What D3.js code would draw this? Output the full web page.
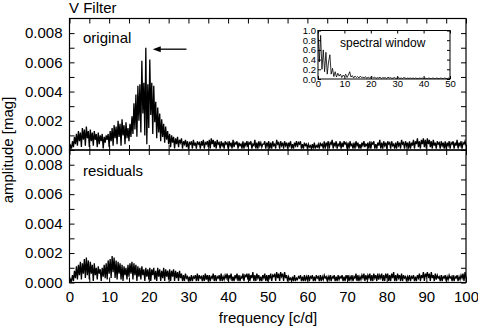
<!DOCTYPE html>
<html>
<head>
<meta charset="utf-8">
<script src="https://cdn.jsdelivr.net/npm/d3@7"></script>
<style>
  body { margin: 0; background: #fff; }
  svg { display: block; font-family: "Liberation Sans", Arial, sans-serif; }
  .tick text { fill: #000; }
</style>
</head>
<body>
<script>
'use strict';

// amplitude spectra, in mmag, sampled every 0.25 c/d from 0 to 100
const freqStep = 0.25;
const originalAmp = [
  0.0,0.3,0.1,0.6,0.2,0.9,0.4,1.1,0.3,1.3,0.6,1.2,0.2,1.5,0.7,1.4,0.3,1.6,0.8,1.3,
  0.2,1.4,0.6,1.2,0.3,1.3,0.7,1.1,0.2,1.2,0.4,1.0,0.6,1.1,0.1,0.9,0.5,1.0,0.7,1.1,
  0.2,1.3,0.6,1.5,0.3,1.7,0.8,1.6,0.4,2.0,0.9,1.8,0.3,2.1,1.0,1.7,0.4,1.9,0.8,1.5,
  0.6,1.8,0.9,2.3,1.1,3.2,1.4,3.8,0.9,4.4,2.0,4.5,1.2,6.1,2.5,4.6,1.0,7.0,0.4,4.5,
  1.5,6.2,2.4,4.6,1.1,4.4,1.9,3.3,0.8,2.9,1.2,2.5,0.6,2.1,0.9,1.8,0.5,1.6,0.7,1.3,
  0.4,1.1,0.2,1.0,0.5,0.9,0.1,0.8,0.4,0.9,0.2,0.7,0.5,0.8,0.1,0.6,0.4,0.7,0.2,0.6,
  0.1,0.5,0.4,0.6,0.1,0.7,0.3,0.5,0.1,0.6,0.4,0.5,0.1,0.6,0.3,0.7,0.1,0.5,0.4,0.6,
  0.2,0.7,0.1,0.8,0.4,0.7,0.2,0.6,0.1,0.7,0.4,0.5,0.1,0.6,0.3,0.5,0.1,0.6,0.4,0.5,
  0.1,0.6,0.3,0.5,0.1,0.7,0.2,0.5,0.4,0.6,0.1,0.5,0.3,0.4,0.1,0.6,0.1,0.5,0.3,0.6,
  0.2,0.5,0.4,0.6,0.1,0.4,0.3,0.7,0.1,0.5,0.1,0.6,0.3,0.5,0.2,0.4,0.4,0.6,0.1,0.5,
  0.3,0.6,0.1,0.5,0.1,0.6,0.3,0.4,0.1,0.7,0.4,0.5,0.1,0.6,0.3,0.5,0.1,0.6,0.3,0.5,
  0.1,0.5,0.3,0.6,0.1,0.4,0.1,0.5,0.3,0.6,0.2,0.5,0.4,0.6,0.1,0.4,0.1,0.5,0.3,0.4,
  0.1,0.4,0.2,0.3,0.1,0.4,0.1,0.5,0.1,0.3,0.2,0.4,0.1,0.5,0.3,0.4,0.1,0.6,0.1,0.5,
  0.3,0.6,0.1,0.5,0.4,0.7,0.1,0.5,0.3,0.6,0.1,0.4,0.3,0.6,0.1,0.5,0.2,0.6,0.4,0.5,
  0.1,0.5,0.1,0.6,0.3,0.4,0.1,0.5,0.1,0.6,0.3,0.5,0.1,0.4,0.1,0.5,0.3,0.6,0.2,0.4,
  0.3,0.5,0.1,0.6,0.1,0.5,0.4,0.6,0.1,0.4,0.1,0.5,0.3,0.7,0.1,0.5,0.1,0.6,0.3,0.5,
  0.1,0.6,0.4,0.5,0.1,0.6,0.3,0.4,0.1,0.5,0.1,0.6,0.3,0.5,0.1,0.7,0.4,0.5,0.1,0.6,
  0.3,0.5,0.1,0.6,0.1,0.5,0.3,0.7,0.1,0.6,0.4,0.8,0.2,0.6,0.1,0.7,0.4,0.8,0.2,0.7,
  0.1,0.8,0.4,0.7,0.2,0.6,0.1,0.7,0.3,0.5,0.1,0.6,0.4,0.5,0.1,0.6,0.3,0.5,0.1,0.6,
  0.1,0.5,0.3,0.6,0.1,0.5,0.4,0.6,0.1,0.5,0.3,0.7,0.1,0.5,0.3,0.6,0.1,0.5,0.4,0.6,
  0.3
];
const residualAmp = [
  0.0,0.2,0.1,0.5,0.1,0.8,0.3,1.1,0.2,1.2,0.5,1.4,0.2,1.3,0.6,1.6,0.3,1.7,0.5,1.5,
  0.2,1.4,0.6,1.2,0.1,1.3,0.5,1.0,0.2,1.1,0.6,0.9,0.1,1.0,0.4,1.2,0.3,1.3,0.2,1.5,
  0.6,1.6,0.3,1.8,0.7,1.7,0.3,1.5,0.2,1.4,0.6,1.3,0.2,1.2,0.1,1.1,0.5,1.0,0.2,1.2,
  0.4,1.3,0.6,1.4,0.2,1.3,0.5,1.2,0.1,1.1,0.4,1.0,0.2,1.1,0.5,0.9,0.1,1.0,0.4,0.9,
  0.2,1.0,0.1,0.9,0.5,1.0,0.2,0.8,0.1,1.0,0.4,0.9,0.1,0.8,0.3,1.0,0.1,0.9,0.4,0.8,
  0.2,0.9,0.1,0.8,0.4,0.9,0.1,0.8,0.3,0.7,0.1,0.8,0.3,0.6,0.1,0.5,0.1,0.6,0.3,0.4,
  0.1,0.4,0.1,0.5,0.1,0.4,0.3,0.5,0.1,0.6,0.1,0.5,0.3,0.4,0.1,0.5,0.1,0.6,0.2,0.5,
  0.1,0.5,0.1,0.4,0.3,0.6,0.1,0.5,0.1,0.4,0.3,0.5,0.1,0.6,0.1,0.4,0.2,0.5,0.3,0.6,
  0.1,0.5,0.3,0.6,0.1,0.4,0.1,0.5,0.3,0.6,0.1,0.5,0.1,0.4,0.3,0.6,0.1,0.5,0.4,0.6,
  0.2,0.6,0.1,0.5,0.3,0.7,0.1,0.5,0.1,0.6,0.3,0.5,0.1,0.4,0.1,0.5,0.3,0.6,0.1,0.5,
  0.1,0.5,0.3,0.6,0.1,0.5,0.4,0.6,0.1,0.7,0.3,0.6,0.1,0.7,0.4,0.6,0.1,0.7,0.3,0.5,
  0.1,0.4,0.2,0.3,0.1,0.4,0.1,0.5,0.1,0.3,0.2,0.4,0.3,0.5,0.1,0.4,0.1,0.5,0.1,0.4,
  0.2,0.5,0.1,0.4,0.3,0.5,0.1,0.4,0.1,0.5,0.3,0.4,0.1,0.5,0.1,0.4,0.2,0.5,0.3,0.4,
  0.1,0.4,0.2,0.5,0.1,0.4,0.3,0.5,0.1,0.4,0.1,0.5,0.2,0.4,0.3,0.5,0.1,0.4,0.1,0.5,
  0.3,0.5,0.1,0.4,0.2,0.5,0.1,0.4,0.3,0.6,0.1,0.5,0.1,0.4,0.2,0.5,0.3,0.6,0.1,0.5,
  0.2,0.5,0.3,0.6,0.1,0.5,0.1,0.6,0.3,0.5,0.1,0.6,0.2,0.5,0.3,0.6,0.1,0.5,0.1,0.6,
  0.3,0.6,0.1,0.5,0.1,0.6,0.3,0.7,0.1,0.5,0.1,0.6,0.3,0.5,0.1,0.6,0.1,0.5,0.3,0.4,
  0.1,0.4,0.2,0.5,0.1,0.4,0.3,0.5,0.1,0.4,0.1,0.5,0.3,0.6,0.1,0.5,0.3,0.7,0.1,0.6,
  0.4,0.7,0.3,0.6,0.1,0.7,0.3,0.5,0.1,0.6,0.2,0.5,0.3,0.4,0.1,0.5,0.1,0.4,0.3,0.5,
  0.1,0.4,0.2,0.5,0.3,0.4,0.1,0.5,0.1,0.4,0.3,0.5,0.1,0.4,0.2,0.5,0.3,0.6,0.1,0.7,
  0.3
];

// spectral window, sampled every 0.5 c/d from 0 to 50
const windowStep = 0.5;
const windowAmp = [
  1.0,0.35,0.9,0.2,0.6,0.15,0.55,0.1,0.35,0.5,
  0.1,0.22,0.05,0.15,0.04,0.12,0.06,0.1,0.03,0.08,
  0.05,0.1,0.03,0.08,0.15,0.04,0.07,0.02,0.06,0.03,
  0.05,0.02,0.06,0.03,0.04,0.02,0.05,0.01,0.04,0.02,
  0.03,0.05,0.02,0.04,0.01,0.03,0.02,0.04,0.01,0.03,
  0.02,0.03,0.01,0.04,0.02,0.03,0.01,0.02,0.03,0.01,
  0.02,0.03,0.01,0.02,0.01,0.03,0.02,0.01,0.02,0.01,
  0.02,0.01,0.02,0.01,0.02,0.01,0.01,0.02,0.01,0.02,
  0.01,0.02,0.01,0.01,0.02,0.01,0.01,0.02,0.01,0.01,
  0.02,0.01,0.01,0.02,0.01,0.01,0.02,0.01,0.01,0.02,
  0.01
];

// ticks
const freqTicks = [0, 10, 20, 30, 40, 50, 60, 70, 80, 90, 100];
const freqMinor = [5, 15, 25, 35, 45, 55, 65, 75, 85, 95];
const ampTicks = [0, 0.002, 0.004, 0.006, 0.008];
const ampMinor = [0.001, 0.003, 0.005, 0.007];
const windowFreqTicks = [0, 10, 20, 30, 40, 50];
const windowAmpTicks = [0, 0.2, 0.4, 0.6, 0.8, 1.0];

// arrow marking the main peak (c/d, mag)
const arrowFrom = 29.5, arrowTo = 21.0, arrowAmp = 0.0069;

const width = 478, height = 328;
const x = d3.scaleLinear().domain([0, 100]).range([69.5, 466]);

const svg = d3.select('body').append('svg')
  .attr('width', width).attr('height', height)
  .attr('viewBox', `0 0 ${width} ${height}`);

const styleAxis = (g, size) => {
  g.select('.domain').remove();
  g.selectAll('.tick line').attr('stroke', '#000').attr('stroke-width', 1);
  g.selectAll('.tick text').attr('font-size', size).attr('font-family', null);
};

const drawPanel = (node, ctx) => {
  const { top, bottom, values, label, labelY, showFreq } = ctx;
  const y = d3.scaleLinear().domain([0, 0.009]).range([bottom, top]);
  const [x0, x1] = x.range();
  const allAmp = ampTicks.concat(ampMinor);
  const allFreq = freqTicks.concat(freqMinor);

  const g = node.append('g');

  g.append('path')
    .datum(values)
    .attr('fill', 'none')
    .attr('stroke', '#000')
    .attr('stroke-width', 1.3)
    .attr('d', d3.line()
      .x((d, i) => x(i * freqStep))
      .y(d => y(d / 1000)));

  g.append('g')
    .attr('transform', `translate(${x0},0)`)
    .call(d3.axisLeft(y).tickValues(allAmp).tickSize(-5).tickPadding(7)
      .tickFormat(d => ampTicks.includes(d) ? d3.format('.3f')(d) : ''))
    .call(a => styleAxis(a, 15));

  g.append('g')
    .attr('transform', `translate(${x1},0)`)
    .call(d3.axisRight(y).tickValues(allAmp).tickSize(-5).tickFormat(''))
    .call(a => styleAxis(a, 15));

  g.append('g')
    .attr('transform', `translate(0,${top})`)
    .call(d3.axisTop(x).tickValues(allFreq).tickSize(-5).tickFormat(''))
    .call(a => styleAxis(a, 15));

  g.append('g')
    .attr('transform', `translate(0,${bottom})`)
    .call(d3.axisBottom(x).tickValues(allFreq).tickSize(-5).tickPadding(9)
      .tickFormat(d => showFreq && freqTicks.includes(d) ? d : ''))
    .call(a => styleAxis(a, 15));

  g.append('rect')
    .attr('x', x0).attr('y', top)
    .attr('width', x1 - x0).attr('height', bottom - top)
    .attr('fill', 'none')
    .attr('stroke', '#000')
    .attr('stroke-width', 1.2);

  g.append('text')
    .attr('x', 83).attr('y', labelY)
    .attr('font-size', 15)
    .text(label);

  return y;
};

const drawInset = node => {
  const wx = d3.scaleLinear().domain([0, 50]).range([318, 450]);
  const wy = d3.scaleLinear().domain([0, 1]).range([79, 30.5]);
  const g = node.append('g');

  g.append('rect')
    .attr('x', 318).attr('y', 30.5)
    .attr('width', 132).attr('height', 48.5)
    .attr('fill', '#fff');

  g.append('path')
    .datum(windowAmp)
    .attr('fill', 'none')
    .attr('stroke', '#000')
    .attr('stroke-width', 0.8)
    .attr('d', d3.line()
      .x((d, i) => wx(i * windowStep))
      .y(d => wy(d)));

  g.append('g')
    .attr('transform', 'translate(318,0)')
    .call(d3.axisLeft(wy).tickValues(windowAmpTicks).tickSize(-3).tickPadding(2)
      .tickFormat(d3.format('.1f')))
    .call(a => styleAxis(a, 9.5));

  g.append('g')
    .attr('transform', 'translate(450,0)')
    .call(d3.axisRight(wy).tickValues(windowAmpTicks).tickSize(-3).tickFormat(''))
    .call(a => styleAxis(a, 9.5));

  g.append('g')
    .attr('transform', 'translate(0,79)')
    .call(d3.axisBottom(wx).tickValues(windowFreqTicks).tickSize(-3).tickPadding(1))
    .call(a => styleAxis(a, 9.5));

  g.append('g')
    .attr('transform', 'translate(0,30.5)')
    .call(d3.axisTop(wx).tickValues(windowFreqTicks).tickSize(-3).tickFormat(''))
    .call(a => styleAxis(a, 9.5));

  g.append('rect')
    .attr('x', 318).attr('y', 30.5)
    .attr('width', 132).attr('height', 48.5)
    .attr('fill', 'none')
    .attr('stroke', '#000')
    .attr('stroke-width', 1);

  g.append('text')
    .attr('x', 340).attr('y', 47)
    .attr('font-size', 12)
    .text('spectral window');
};

const yTop = drawPanel(svg, {
  top: 18.5, bottom: 150, values: originalAmp,
  label: 'original', labelY: 43, showFreq: false
});

drawPanel(svg, {
  top: 150, bottom: 282.5, values: residualAmp,
  label: 'residuals', labelY: 176, showFreq: true
});

drawInset(svg);

// arrow
const ay = yTop(arrowAmp);
svg.append('line')
  .attr('x1', x(arrowFrom)).attr('y1', ay)
  .attr('x2', x(arrowTo) + 6).attr('y2', ay)
  .attr('stroke', '#000')
  .attr('stroke-width', 1.3);
svg.append('path')
  .attr('d', `M${x(arrowTo)},${ay}L${x(arrowTo) + 8},${ay - 3}L${x(arrowTo) + 8},${ay + 3}Z`)
  .attr('fill', '#000');

// titles
svg.append('text')
  .attr('x', 69).attr('y', 13)
  .attr('font-size', 15)
  .text('V Filter');

svg.append('text')
  .attr('x', 268).attr('y', 323)
  .attr('text-anchor', 'middle')
  .attr('font-size', 15)
  .text('frequency [c/d]');

svg.append('text')
  .attr('transform', 'translate(13,150) rotate(-90)')
  .attr('text-anchor', 'middle')
  .attr('font-size', 15)
  .text('amplitude [mag]');
</script>
</body>
</html>
